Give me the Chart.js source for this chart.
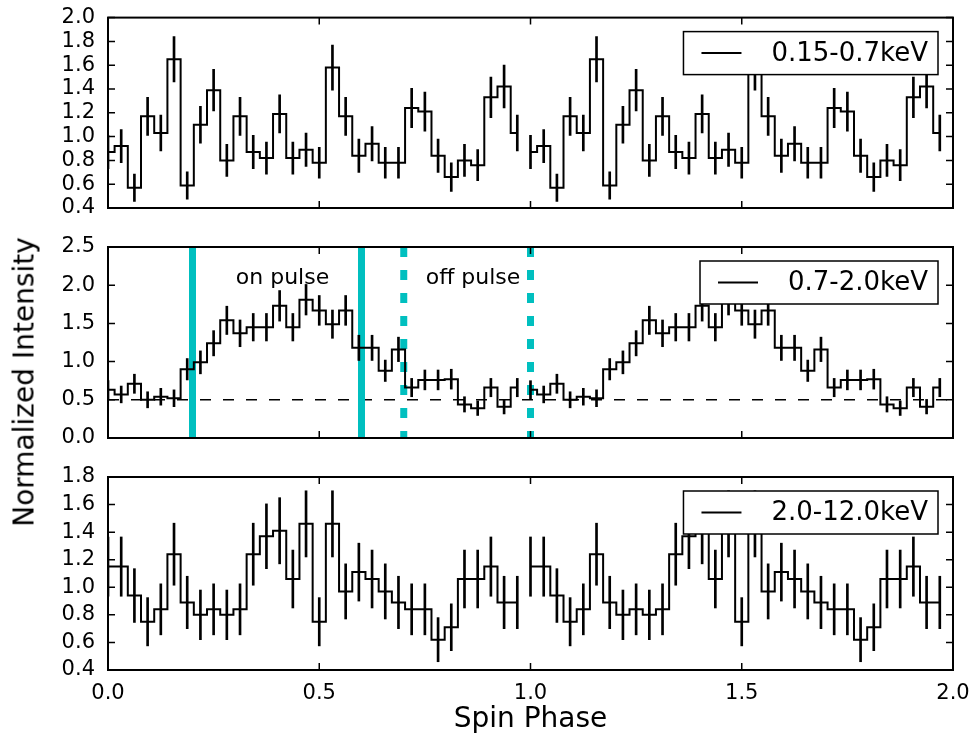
<!DOCTYPE html>
<html>
<head>
<meta charset="utf-8">
<title>Spin phase profiles</title>
<script src="https://cdn.jsdelivr.net/npm/chart.js@4.4.0/dist/chart.umd.min.js"></script>
<style>
  body { margin: 0; background: #fff; }
  #wrap { position: relative; width: 974px; height: 740px; font-family: 'DejaVu Sans', sans-serif; }
  canvas { position: absolute; left: 0; }
  #ylabel {
    position: absolute; left: 24px; top: 382px;
    transform: translate(-50%, -50%) rotate(-90deg);
    font-size: 28px; white-space: nowrap; color: #000;
  }
</style>
</head>
<body>
<div id="wrap">
  <canvas id="c1" width="974" height="228" style="top:0px"></canvas>
  <canvas id="c2" width="974" height="230" style="top:228px"></canvas>
  <canvas id="c3" width="974" height="282" style="top:458px"></canvas>
  <div id="ylabel">Normalized Intensity</div>
</div>
<script>
// 32 phase bins per cycle, plotted twice (phase 0-1 and 1-2)
const binCount = 32;

const soft = [0.87, 0.92, 0.57, 1.17, 1.03, 1.65, 0.59, 1.10, 1.39, 0.80, 1.17, 0.87, 0.82, 1.19, 0.82, 0.89,
              0.78, 1.58, 1.17, 0.84, 0.94, 0.78, 0.78, 1.24, 1.21, 0.84, 0.66, 0.80, 0.76, 1.33, 1.42, 1.03];
const softErr = [0.14, 0.14, 0.115, 0.16, 0.15, 0.19, 0.115, 0.155, 0.175, 0.135, 0.16, 0.14, 0.135, 0.16, 0.135, 0.14,
                 0.13, 0.19, 0.16, 0.14, 0.145, 0.13, 0.13, 0.165, 0.165, 0.14, 0.12, 0.135, 0.13, 0.17, 0.18, 0.15];

const medium = [0.63, 0.57, 0.71, 0.50, 0.54, 0.52, 0.90, 0.99, 1.24, 1.54, 1.37, 1.45, 1.45, 1.73, 1.45, 1.81,
                1.67, 1.49, 1.67, 1.18, 1.18, 0.88, 1.16, 0.66, 0.76, 0.76, 0.77, 0.44, 0.39, 0.66, 0.41, 0.66];
const mediumErr = [0.12, 0.11, 0.125, 0.105, 0.11, 0.11, 0.14, 0.15, 0.165, 0.185, 0.175, 0.18, 0.18, 0.2, 0.18, 0.2,
                   0.195, 0.185, 0.195, 0.165, 0.165, 0.14, 0.16, 0.12, 0.13, 0.13, 0.13, 0.1, 0.095, 0.12, 0.095, 0.12];

const hard = [1.15, 1.15, 0.94, 0.75, 0.84, 1.24, 0.89, 0.80, 0.84, 0.80, 0.84, 1.24, 1.37, 1.41, 1.06, 1.46,
              0.75, 1.46, 0.97, 1.11, 1.06, 0.97, 0.89, 0.84, 0.84, 0.62, 0.71, 1.06, 1.06, 1.15, 0.89, 0.89];
const hardErr = [0.215, 0.215, 0.195, 0.175, 0.185, 0.225, 0.19, 0.18, 0.185, 0.18, 0.185, 0.225, 0.235, 0.24, 0.21, 0.24,
                 0.175, 0.24, 0.2, 0.21, 0.21, 0.2, 0.19, 0.185, 0.185, 0.16, 0.17, 0.21, 0.21, 0.215, 0.19, 0.19];

const xTicks = [0, 0.5, 1.0, 1.5, 2.0];
const xTickLabels = ['0.0', '0.5', '1.0', '1.5', '2.0'];
const yTicks1 = [0.4, 0.6, 0.8, 1.0, 1.2, 1.4, 1.6, 1.8, 2.0];
const yTicks2 = [0.0, 0.5, 1.0, 1.5, 2.0, 2.5];
const yTicks3 = [0.4, 0.6, 0.8, 1.0, 1.2, 1.4, 1.6, 1.8];

const onPulse = [0.2, 0.6];
const offPulse = [0.7, 1.0];
const baseLevel = 0.5;

const cyan = '#00bfbf';
const tickFont = { family: 'DejaVu Sans', size: 21 };

function stepPoints(vals) {
  const pts = [];
  for (let c = 0; c < 2; c++) {
    vals.forEach((v, i) => pts.push({ x: c + i / binCount, y: v }));
    if (c === 0) pts.push({ x: 1 - 0.5 / binCount, y: null });
  }
  return pts;
}

function errPoints(vals, errs) {
  const pts = [];
  for (let c = 0; c < 2; c++) {
    vals.forEach((v, i) => pts.push({ x: c + i / binCount, y: [v - errs[i], v + errs[i]] }));
  }
  return pts;
}

// frame, inward ticks, boxed legend and text labels
const framePlugin = {
  id: 'frame',
  afterDatasetsDraw(chart, args, opts) {
    const { ctx, chartArea: a, scales: { x, y } } = chart;
    ctx.save();

    (opts.notes || []).forEach(n => {
      ctx.font = '22px "DejaVu Sans"';
      ctx.fillStyle = '#000';
      ctx.textAlign = 'center';
      ctx.textBaseline = 'middle';
      ctx.fillText(n.text, x.getPixelForValue(n.x), y.getPixelForValue(n.y));
    });

    if (opts.label) {
      ctx.font = '26px "DejaVu Sans"';
      const w = ctx.measureText(opts.label).width;
      const right = a.right - 15, top = a.top + 14, h = 43;
      const left = right - (88 + w + 10);
      ctx.fillStyle = '#fff';
      ctx.fillRect(left, top, right - left, h);
      ctx.strokeStyle = '#000';
      ctx.lineWidth = 1.5;
      ctx.strokeRect(left, top, right - left, h);
      ctx.lineWidth = 2;
      ctx.beginPath();
      ctx.moveTo(left + 18, top + h / 2);
      ctx.lineTo(left + 58, top + h / 2);
      ctx.stroke();
      ctx.fillStyle = '#000';
      ctx.textAlign = 'left';
      ctx.textBaseline = 'middle';
      ctx.fillText(opts.label, left + 88, top + h / 2 + 1);
    }

    ctx.strokeStyle = '#000';
    ctx.lineWidth = 1.5;
    ctx.beginPath();
    xTicks.forEach(v => {
      const px = x.getPixelForValue(v);
      ctx.moveTo(px, a.bottom); ctx.lineTo(px, a.bottom - 7);
      ctx.moveTo(px, a.top); ctx.lineTo(px, a.top + 7);
    });
    opts.yTicks.forEach(v => {
      const py = y.getPixelForValue(v);
      ctx.moveTo(a.left, py); ctx.lineTo(a.left + 7, py);
      ctx.moveTo(a.right, py); ctx.lineTo(a.right - 7, py);
    });
    ctx.stroke();

    ctx.lineWidth = 2;
    ctx.strokeRect(a.left, a.top, a.right - a.left, a.bottom - a.top);
    ctx.restore();
  }
};

function makePanel(id, vals, errs, yTicks, label, extra, showX, pad) {
  const datasets = [
    {
      type: 'line', data: stepPoints(vals), stepped: 'middle',
      borderColor: '#000', borderWidth: 2, pointRadius: 0, fill: false, order: 0
    },
    {
      type: 'bar', data: errPoints(vals, errs), backgroundColor: '#000',
      borderWidth: 0, barThickness: 2, order: 0
    }
  ].concat(extra);

  return new Chart(document.getElementById(id), {
    type: 'line',
    data: { datasets: datasets },
    options: {
      responsive: false,
      animation: false,
      layout: { padding: pad },
      plugins: {
        legend: { display: false },
        tooltip: { enabled: false },
        frame: { label: label, yTicks: yTicks, notes: extra.notes || [] }
      },
      scales: {
        x: {
          type: 'linear', min: 0, max: 2, offset: false,
          display: showX,
          grid: { display: false },
          border: { display: false },
          afterBuildTicks: s => { s.ticks = xTicks.map(v => ({ value: v })); },
          afterFit: s => { s.height = showX ? 70 : 0; },
          ticks: {
            font: tickFont, color: '#000', padding: 3, maxRotation: 0, autoSkip: false,
            callback: (v, i) => xTickLabels[i]
          },
          title: {
            display: true, text: 'Spin Phase', color: '#000',
            font: { family: 'DejaVu Sans', size: 28 }, padding: { top: 0, bottom: 3 }
          }
        },
        y: {
          min: yTicks[0], max: yTicks[yTicks.length - 1],
          grid: { display: false },
          border: { display: false },
          afterBuildTicks: s => { s.ticks = yTicks.map(v => ({ value: v })); },
          afterFit: s => { s.width = 108; },
          ticks: {
            font: tickFont, color: '#000', padding: 5, autoSkip: false,
            callback: v => v.toFixed(1)
          }
        }
      }
    },
    plugins: [framePlugin]
  });
}

function pulseLine(xv, dashed) {
  return {
    type: 'line', data: [{ x: xv, y: 2.5 }, { x: xv, y: 0 }],
    borderColor: cyan, borderWidth: 7, pointRadius: 0, fill: false,
    borderDash: dashed ? [10, 13] : [], order: 1
  };
}

makePanel('c1', soft, softErr, yTicks1, '0.15-0.7keV', [], false,
  { left: 0, right: 21, top: 16, bottom: 20 });

const midExtra = [
  {
    type: 'line', data: [{ x: 0, y: baseLevel }, { x: 2, y: baseLevel }],
    borderColor: '#000', borderWidth: 1.5, borderDash: [11, 12], pointRadius: 0, fill: false, order: 2
  }
].concat(onPulse.map(v => pulseLine(v, false)), offPulse.map(v => pulseLine(v, true)));
midExtra.notes = [
  { text: 'on pulse', x: 0.413, y: 2.085 },
  { text: 'off pulse', x: 0.864, y: 2.085 }
];
makePanel('c2', medium, mediumErr, yTicks2, '0.7-2.0keV', midExtra, false,
  { left: 0, right: 21, top: 19, bottom: 20 });

makePanel('c3', hard, hardErr, yTicks3, '2.0-12.0keV', [], true,
  { left: 0, right: 21, top: 19, bottom: 0 });
</script>
</body>
</html>
